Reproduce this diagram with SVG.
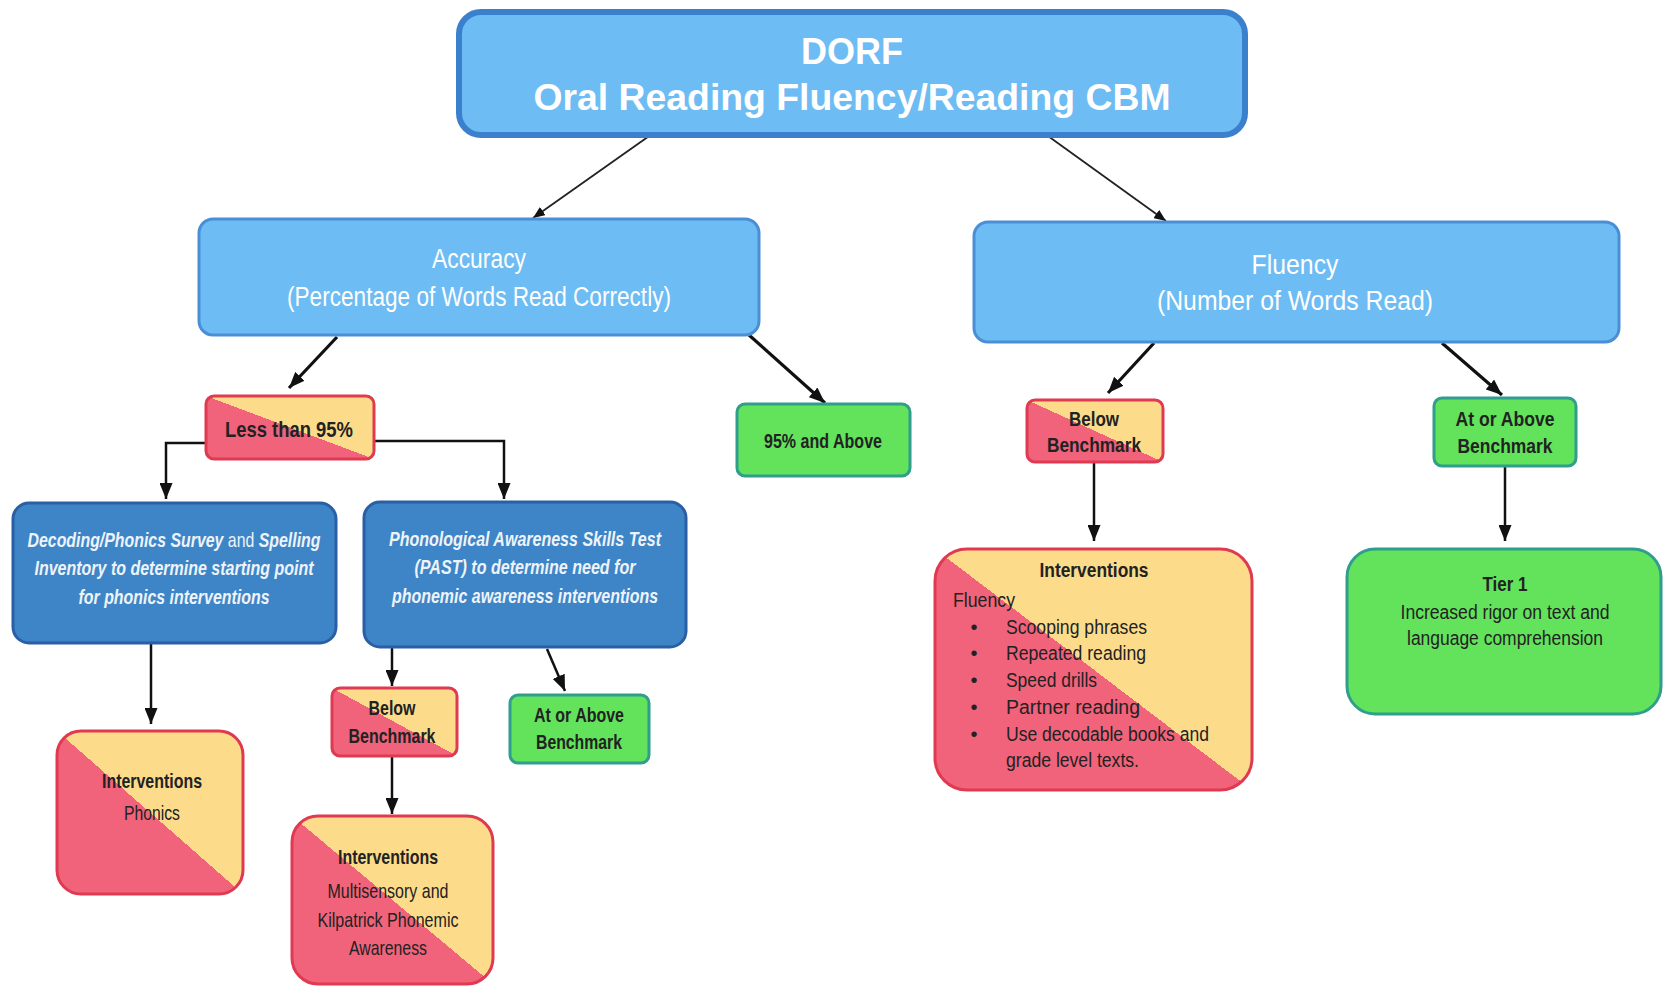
<svg xmlns="http://www.w3.org/2000/svg" width="1663" height="987" viewBox="0 0 1663 987">
<defs>
  <linearGradient id="ry" x1="0" y1="1" x2="1" y2="0">
    <stop offset="0" stop-color="#f1627b"/>
    <stop offset="0.5" stop-color="#f1627b"/>
    <stop offset="0.5" stop-color="#fcdc8b"/>
    <stop offset="1" stop-color="#fcdc8b"/>
  </linearGradient>
  <marker id="ah" markerUnits="userSpaceOnUse" viewBox="0 0 16 13" refX="16" refY="6.5" markerWidth="16" markerHeight="13" orient="auto">
    <path d="M0,0 L16,6.5 L0,13 z" fill="#111"/>
  </marker>
  <marker id="ahs" markerUnits="userSpaceOnUse" viewBox="0 0 12 10" refX="12" refY="5" markerWidth="12" markerHeight="10" orient="auto">
    <path d="M0,0 L12,5 L0,10 z" fill="#111"/>
  </marker>
</defs>
<style>
  .lb { fill:#6dbcf3; stroke:#4a8fd6; stroke-width:3; }
  .db { fill:#3d85c6; stroke:#2b5fa5; stroke-width:3; }
  .ry { fill:url(#ry); stroke:#e03a52; stroke-width:3; }
  .gr { fill:#63e35b; stroke:#2f9e8c; stroke-width:3; }
  .n { font-family:"Liberation Sans Narrow","Liberation Sans","Arial Narrow",sans-serif; }
  .w { fill:#ffffff; }
  .wi { fill:#eef3fa; font-style:italic; font-weight:bold; }
  .wr { fill:#eef3fa; font-style:normal; font-weight:normal; }
  .k { fill:#222222; }
  .b { font-weight:bold; }
  .c { text-anchor:middle; }
  .con { fill:none; stroke:#111; stroke-width:2.5; }
  .thick { fill:none; stroke:#111; stroke-width:3.2; }
  .thin { fill:none; stroke:#222; stroke-width:1.8; }
</style>

<g id="connectors">
  <line class="thin" x1="652" y1="134" x2="533" y2="218" marker-end="url(#ahs)"/>
  <line class="thin" x1="1048" y1="136" x2="1166" y2="221" marker-end="url(#ahs)"/>
  <line class="thick" x1="337" y1="337" x2="289" y2="388" marker-end="url(#ah)"/>
  <line class="thick" x1="749" y1="335" x2="825" y2="403" marker-end="url(#ah)"/>
  <line class="thick" x1="1154" y1="343" x2="1108" y2="393" marker-end="url(#ah)"/>
  <line class="thick" x1="1442" y1="343" x2="1502" y2="395" marker-end="url(#ah)"/>
  <path class="con" d="M206,443 H166 V499" marker-end="url(#ah)"/>
  <path class="con" d="M374,441 H504 V499" marker-end="url(#ah)"/>
  <path class="con" d="M151,643 V724" marker-end="url(#ah)"/>
  <path class="con" d="M392,647 V686" marker-end="url(#ah)"/>
  <path class="con" d="M547,649 L565,691" marker-end="url(#ah)"/>
  <path class="con" d="M392,756 V814" marker-end="url(#ah)"/>
  <path class="con" d="M1094,462 V541" marker-end="url(#ah)"/>
  <path class="con" d="M1505,466 V541" marker-end="url(#ah)"/>
</g>

<g id="dorf">
  <rect x="459" y="12" width="786" height="123" rx="22" fill="#6dbcf3" stroke="#3a80cc" stroke-width="6"/>
  <text x="852" y="64" class="w b c" font-family="Liberation Sans, sans-serif" font-size="36">DORF</text>
  <text x="852" y="110" class="w b c" font-family="Liberation Sans, sans-serif" font-size="36" textLength="637" lengthAdjust="spacingAndGlyphs">Oral Reading Fluency/Reading CBM</text>
</g>

<g id="accuracy">
  <rect x="199" y="219" width="560" height="116" rx="14" class="lb"/>
  <text x="479" y="268" class="n w c" font-size="27" textLength="94" lengthAdjust="spacingAndGlyphs">Accuracy</text>
  <text x="479" y="306" class="n w c" font-size="27" textLength="384" lengthAdjust="spacingAndGlyphs">(Percentage of Words Read Correctly)</text>
</g>

<g id="fluency">
  <rect x="974" y="222" width="645" height="120" rx="14" class="lb"/>
  <text x="1295" y="274" class="n w c" font-size="27" textLength="87" lengthAdjust="spacingAndGlyphs">Fluency</text>
  <text x="1295" y="310" class="n w c" font-size="27" textLength="276" lengthAdjust="spacingAndGlyphs">(Number of Words Read)</text>
</g>

<g id="less95">
  <rect x="206" y="396" width="168" height="63" rx="8" class="ry"/>
  <text x="289" y="437" class="n k b c" font-size="22" textLength="128" lengthAdjust="spacingAndGlyphs">Less than 95%</text>
</g>

<g id="above95">
  <rect x="737" y="404" width="173" height="72" rx="8" class="gr"/>
  <text x="823" y="448" class="n k b c" font-size="21" textLength="118" lengthAdjust="spacingAndGlyphs">95% and Above</text>
</g>

<g id="belowF">
  <rect x="1027" y="400" width="136" height="62" rx="8" class="ry"/>
  <text x="1094" y="426" class="n k b c" font-size="21" textLength="50" lengthAdjust="spacingAndGlyphs">Below</text>
  <text x="1094" y="452" class="n k b c" font-size="21" textLength="94" lengthAdjust="spacingAndGlyphs">Benchmark</text>
</g>

<g id="aboveF">
  <rect x="1434" y="398" width="142" height="68" rx="8" class="gr"/>
  <text x="1505" y="426" class="n k b c" font-size="21" textLength="99" lengthAdjust="spacingAndGlyphs">At or Above</text>
  <text x="1505" y="453" class="n k b c" font-size="21" textLength="95" lengthAdjust="spacingAndGlyphs">Benchmark</text>
</g>

<g id="intFluency">
  <rect x="935" y="549" width="317" height="241" rx="32" class="ry"/>
  <text x="1094" y="577" class="n k b c" font-size="20" textLength="109" lengthAdjust="spacingAndGlyphs">Interventions</text>
  <text x="953" y="607" class="n k" font-size="20" textLength="62" lengthAdjust="spacingAndGlyphs">Fluency</text>
  <text x="974" y="634" class="n k c" font-size="20">•</text>
  <text x="1006" y="634" class="n k" font-size="20" textLength="141" lengthAdjust="spacingAndGlyphs">Scooping phrases</text>
  <text x="974" y="660" class="n k c" font-size="20">•</text>
  <text x="1006" y="660" class="n k" font-size="20" textLength="140" lengthAdjust="spacingAndGlyphs">Repeated reading</text>
  <text x="974" y="687" class="n k c" font-size="20">•</text>
  <text x="1006" y="687" class="n k" font-size="20" textLength="91" lengthAdjust="spacingAndGlyphs">Speed drills</text>
  <text x="974" y="714" class="n k c" font-size="20">•</text>
  <text x="1006" y="714" class="n k" font-size="20" textLength="134" lengthAdjust="spacingAndGlyphs">Partner reading</text>
  <text x="974" y="741" class="n k c" font-size="20">•</text>
  <text x="1006" y="741" class="n k" font-size="20" textLength="203" lengthAdjust="spacingAndGlyphs">Use decodable books and</text>
  <text x="1006" y="767" class="n k" font-size="20" textLength="133" lengthAdjust="spacingAndGlyphs">grade level texts.</text>
</g>

<g id="tier1">
  <rect x="1347" y="549" width="314" height="165" rx="28" class="gr"/>
  <text x="1505" y="591" class="n k b c" font-size="20" textLength="45" lengthAdjust="spacingAndGlyphs">Tier 1</text>
  <text x="1505" y="619" class="n k c" font-size="20" textLength="209" lengthAdjust="spacingAndGlyphs">Increased rigor on text and</text>
  <text x="1505" y="645" class="n k c" font-size="20" textLength="196" lengthAdjust="spacingAndGlyphs">language comprehension</text>
</g>

<g id="decoding">
  <rect x="13" y="503" width="323" height="140" rx="16" class="db"/>
  <text x="174" y="547" class="n wi c" font-size="21" textLength="293" lengthAdjust="spacingAndGlyphs">Decoding/Phonics Survey <tspan class="wr">and</tspan> Spelling</text>
  <text x="174" y="575" class="n wi c" font-size="21" textLength="279" lengthAdjust="spacingAndGlyphs">Inventory to determine starting point</text>
  <text x="174" y="604" class="n wi c" font-size="21" textLength="191" lengthAdjust="spacingAndGlyphs">for phonics interventions</text>
</g>

<g id="past">
  <rect x="364" y="502" width="322" height="145" rx="16" class="db"/>
  <text x="525" y="546" class="n wi c" font-size="21" textLength="272" lengthAdjust="spacingAndGlyphs">Phonological Awareness Skills Test</text>
  <text x="525" y="574" class="n wi c" font-size="21" textLength="221" lengthAdjust="spacingAndGlyphs">(PAST) to determine need for</text>
  <text x="525" y="603" class="n wi c" font-size="21" textLength="266" lengthAdjust="spacingAndGlyphs">phonemic awareness interventions</text>
</g>

<g id="intPhonics">
  <rect x="57" y="731" width="186" height="163" rx="24" class="ry"/>
  <text x="152" y="788" class="n k b c" font-size="21" textLength="100" lengthAdjust="spacingAndGlyphs">Interventions</text>
  <text x="152" y="820" class="n k c" font-size="21" textLength="56" lengthAdjust="spacingAndGlyphs">Phonics</text>
</g>

<g id="belowL">
  <rect x="332" y="688" width="125" height="68" rx="8" class="ry"/>
  <text x="392" y="715" class="n k b c" font-size="21" textLength="47" lengthAdjust="spacingAndGlyphs">Below</text>
  <text x="392" y="743" class="n k b c" font-size="21" textLength="87" lengthAdjust="spacingAndGlyphs">Benchmark</text>
</g>

<g id="aboveL">
  <rect x="510" y="695" width="139" height="68" rx="8" class="gr"/>
  <text x="579" y="722" class="n k b c" font-size="21" textLength="90" lengthAdjust="spacingAndGlyphs">At or Above</text>
  <text x="579" y="749" class="n k b c" font-size="21" textLength="86" lengthAdjust="spacingAndGlyphs">Benchmark</text>
</g>

<g id="intMulti">
  <rect x="292" y="816" width="201" height="168" rx="26" class="ry"/>
  <text x="388" y="864" class="n k b c" font-size="21" textLength="100" lengthAdjust="spacingAndGlyphs">Interventions</text>
  <text x="388" y="898" class="n k c" font-size="21" textLength="121" lengthAdjust="spacingAndGlyphs">Multisensory and</text>
  <text x="388" y="927" class="n k c" font-size="21" textLength="141" lengthAdjust="spacingAndGlyphs">Kilpatrick Phonemic</text>
  <text x="388" y="955" class="n k c" font-size="21" textLength="78" lengthAdjust="spacingAndGlyphs">Awareness</text>
</g>
</svg>
